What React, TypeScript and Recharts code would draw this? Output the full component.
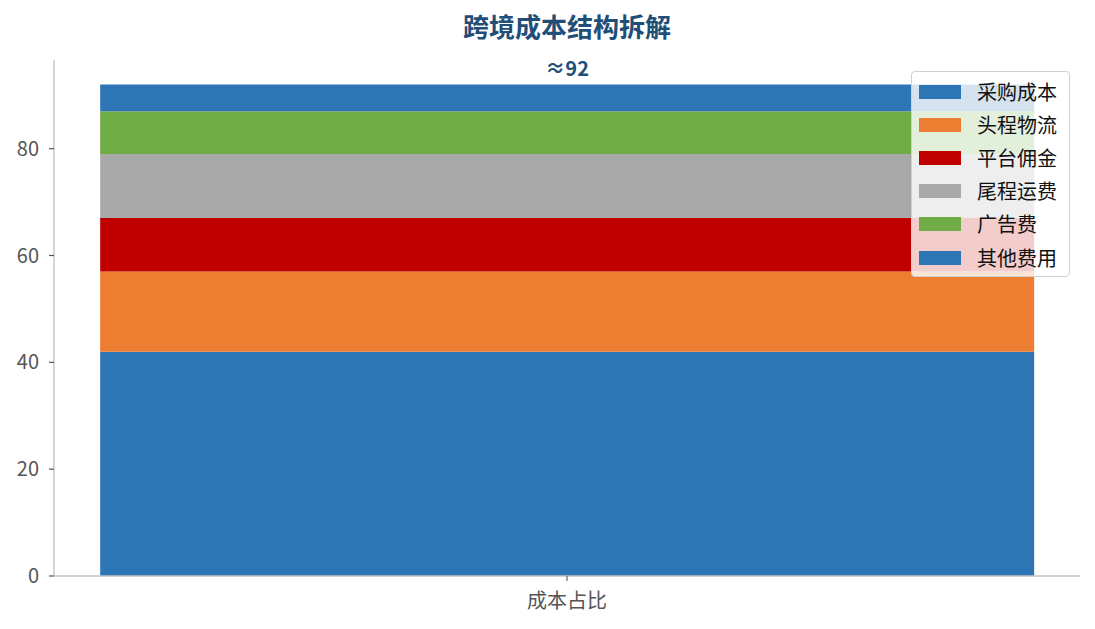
import React from 'react';
import { BarChart, Bar, XAxis, YAxis, LabelList } from 'recharts';

const categories = ['成本占比'];
const seriesNames = ['采购成本', '头程物流', '平台佣金', '尾程运费', '广告费', '其他费用'];
const seriesValues = [42, 15, 10, 12, 8, 5];
const seriesColors = ['#2E75B6', '#ED7D31', '#C00000', '#A9A9A9', '#70AD47', '#2E75B6'];
const yTicks = [0, 20, 40, 60, 80];
const title = '跨境成本结构拆解';

const total = seriesValues.reduce((a, b) => a + b, 0);
const data = categories.map((c) => {
  const row: Record<string, any> = { name: c };
  seriesNames.forEach((s, i) => {
    row[s] = seriesValues[i];
  });
  return row;
});

const FONT = '"Noto Sans CJK SC", "Noto Sans", sans-serif';

const TotalLabel = (props: any) => {
  const { x, y, width } = props;
  return (
    <text
      x={x + width / 2}
      y={y - 17}
      textAnchor="middle"
      dominantBaseline="central"
      fill="#1F4E79"
      fontWeight="bold"
      fontSize={20}
      fontFamily={FONT}
    >
      {'≈' + total}
    </text>
  );
};

export default function App() {
  return (
    <div style={{ position: 'absolute', left: 0, top: 0, width: 1095, height: 629, background: '#fff', fontFamily: FONT }}>
      <div
        style={{
          position: 'absolute',
          left: 0,
          width: 1134,
          top: 8,
          textAlign: 'center',
          fontSize: 26,
          fontWeight: 'bold',
          color: '#1F4E79',
          lineHeight: '36px',
        }}
      >
        {title}
      </div>
      <BarChart
        width={1095}
        height={629}
        data={data}
        margin={{ top: 60, right: 15, bottom: 0, left: 0 }}
        barCategoryGap="4.5%"
      >
        <XAxis
          dataKey="name"
          height={53}
          axisLine={{ stroke: '#C4C4C4', strokeWidth: 1.5 }}
          tickLine={{ stroke: '#666', strokeWidth: 1.2 }}
          tickSize={5}
          tick={{ fill: '#555', fontSize: 20, fontFamily: FONT, dy: 11 }}
        />
        <YAxis
          width={54}
          domain={[0, total * 1.05]}
          ticks={yTicks}
          axisLine={{ stroke: '#C8C8C8', strokeWidth: 1.5 }}
          tickLine={{ stroke: '#555', strokeWidth: 1.2 }}
          tickSize={5}
          tick={{ fill: '#555', fontSize: 20, fontFamily: FONT, dx: -8 }}
        />
        {seriesNames.map((s, i) => (
          <Bar key={s} dataKey={s} stackId="a" fill={seriesColors[i]} isAnimationActive={false}>
            {i === seriesNames.length - 1 ? <LabelList dataKey={s} content={TotalLabel} /> : null}
          </Bar>
        ))}
      </BarChart>
      <div
        style={{
          position: 'absolute',
          left: 911,
          top: 71,
          width: 159,
          height: 206,
          boxSizing: 'border-box',
          background: 'rgba(255,255,255,0.8)',
          border: '1.5px solid #D0D0D0',
          borderRadius: 4,
          paddingTop: 3,
        }}
      >
        {seriesNames.map((s, i) => (
          <div key={s} style={{ display: 'flex', alignItems: 'center', height: 33.2 }}>
            <div style={{ marginLeft: 7, width: 42, height: 14, background: seriesColors[i] }} />
            <div style={{ marginLeft: 16, fontSize: 20, color: '#111', lineHeight: '24px', whiteSpace: 'nowrap' }}>{s}</div>
          </div>
        ))}
      </div>
    </div>
  );
}
